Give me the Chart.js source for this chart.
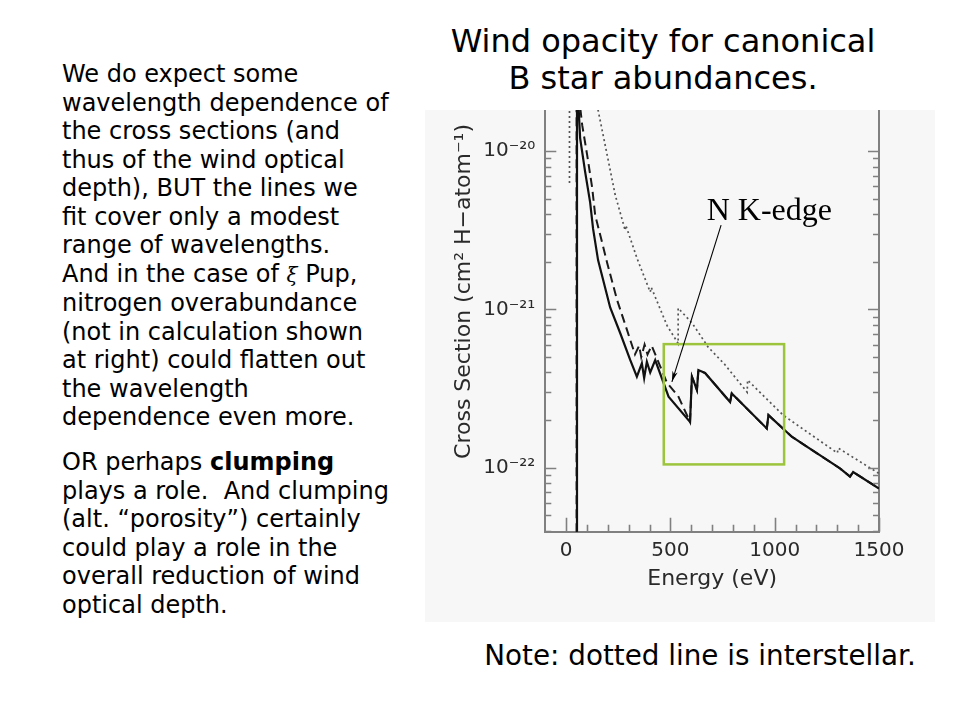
<!DOCTYPE html>
<html>
<head>
<meta charset="utf-8">
<script src="https://cdn.jsdelivr.net/npm/chart.js@4.4.1/dist/chart.umd.min.js"></script>
<style>
  html, body { margin: 0; padding: 0; background: #ffffff; }
  body { width: 960px; height: 720px; position: relative; overflow: hidden; font-family: "DejaVu Sans", Verdana, sans-serif; color: #000; }
  #title { position: absolute; left: 363px; top: 23px; width: 600px; text-align: center; font-size: 32px; line-height: 37.3px; white-space: nowrap; }
  #left { position: absolute; left: 62px; top: 60px; font-size: 24px; line-height: 28.5px; white-space: nowrap; }
  #left p { margin: 0; }
  #left p + p { margin-top: 16.5px; }
  .xi { font-family: "DejaVu Serif", serif; font-style: italic; font-size: 20px; }
  #panel { position: absolute; left: 425px; top: 110px; width: 510px; height: 512px; background: #f7f7f7; }
  #note { position: absolute; left: 400px; top: 640px; width: 600px; text-align: center; font-size: 27.8px; line-height: 32px; white-space: nowrap; }
</style>
</head>
<body>
<div id="title">Wind opacity for canonical<br>B star abundances.</div>
<div id="left">
<p>We do expect some<br>wavelength dependence of<br>the cross sections (and<br>thus of the wind optical<br>depth), BUT the lines we<br>fit cover only a modest<br>range of wavelengths.<br>And in the case of <span class="xi">ξ</span> Pup,<br>nitrogen overabundance<br>(not in calculation shown<br>at right) could flatten out<br>the wavelength<br>dependence even more.</p>
<p>OR perhaps <b>clumping</b><br>plays a role.&nbsp; And clumping<br>(alt. “porosity”) certainly<br>could play a role in the<br>overall reduction of wind<br>optical depth.</p>
</div>
<div id="panel"><canvas id="c" width="510" height="512"></canvas></div>
<div id="note">Note: dotted line is interstellar.</div>
<script>
// ---- data (Energy in eV, cross section in cm^2 per H atom) ----
const energySolid = [52, 52, 67, 91, 115, 129, 153, 211, 259, 307, 339, 363, 374, 387, 403, 427, 491, 594, 603, 627, 634, 666, 786, 794, 834, 962, 970, 1082, 1154, 1313, 1361, 1376, 1500];
const sigmaSolid = [1e-24, 3e-20, 1.21e-20, 7.4e-21, 4.75e-21, 3.24e-21, 2.05e-21, 1.03e-21, 7.1e-22, 4.8e-22, 3.76e-22, 4.57e-22, 3.69e-22, 4.68e-22, 4.0e-22, 4.79e-22, 2.81e-22, 1.95e-22, 3.76e-22, 3.10e-22, 4.14e-22, 3.97e-22, 2.6e-22, 2.95e-22, 2.61e-22, 1.77e-22, 2.15e-22, 1.57e-22, 1.36e-22, 9.9e-23, 8.8e-23, 9.4e-23, 7.4e-23];

const energyDashed = [50, 50, 77, 101, 125, 139, 173, 197, 244, 292, 330, 350, 360, 376, 390, 410, 484, 537, 594, 603, 627, 634, 666, 786, 794, 834, 962, 970, 1082, 1154, 1313, 1361, 1376, 1500];
const sigmaDashed = [1e-24, 3e-20, 1.46e-20, 9.4e-21, 5.85e-21, 3.95e-21, 2.63e-21, 1.96e-21, 1.15e-21, 7.4e-22, 5.2e-22, 5.9e-22, 5.0e-22, 6.0e-22, 5.2e-22, 5.9e-22, 3.43e-22, 2.84e-22, 1.95e-22, 3.76e-22, 3.10e-22, 4.14e-22, 3.97e-22, 2.6e-22, 2.95e-22, 2.61e-22, 1.77e-22, 2.15e-22, 1.57e-22, 1.36e-22, 9.9e-23, 8.8e-23, 9.4e-23, 7.4e-23];

const energyDotted = [16, 16, 100, 153, 197, 235, 283, 286, 340, 403, 408, 484, 537, 537, 604, 681, 760, 868, 870, 1040, 1300, 1305, 1500];
const sigmaDotted = [6.3e-21, 5e-19, 5e-20, 1.82e-20, 9.4e-21, 5.3e-21, 3.16e-21, 3.4e-21, 2.1e-21, 1.29e-21, 1.38e-21, 7.9e-22, 6.1e-22, 1.02e-21, 8.2e-22, 5.78e-22, 4.5e-22, 3.0e-22, 3.58e-22, 2.15e-22, 1.24e-22, 1.33e-22, 9.2e-23];

const xTickValues = [0, 500, 1000, 1500];
const xTickLabels = ['0', '500', '1000', '1500'];
const yTickValues = [1e-22, 1e-21, 1e-20];
const yTickLabels = ['10\u207B\u00B2\u00B2', '10\u207B\u00B2\u00B9', '10\u207B\u00B2\u2070'];

// annotation anchors in data units
const boxEnergy = [468, 1045];
const boxSigma = [1.05e-22, 6.04e-22];
const arrowEnergy = [743, 507];
const arrowSigma = [3.41e-21, 3.49e-22];
const labelEnergy = 674;
const labelSigma = 3.67e-21;
const labelText = 'N K-edge';

const xMin = -100, xMax = 1500;
const yMin = 3.945e-23, yMax = 1.82e-20;

const toPoints = (xs, ys) => xs.map((e, i) => ({ x: e, y: ys[i] }));

Chart.defaults.font.family = '"DejaVu Sans", sans-serif';

const frameColor = '#808080';
const axisText = '#2a2a2a';

const noPad = s => { s.paddingTop = 0; s.paddingBottom = 0; s.paddingLeft = 0; s.paddingRight = 0; };

const overlay = {
  id: 'overlay',
  afterDraw(chart) {
    const { ctx, chartArea: a, scales } = chart;
    const x = scales.x, y = scales.y;
    ctx.save();
    // inward tick marks
    ctx.strokeStyle = frameColor;
    ctx.lineWidth = 1.6;
    ctx.beginPath();
    for (let v = 0; v <= xMax; v += 100) {
      const px = Math.round(x.getPixelForValue(v)) + 0.5;
      const len = v % 500 === 0 ? 14 : 7;
      ctx.moveTo(px, a.bottom);
      ctx.lineTo(px, a.bottom - len);
    }
    for (let d = -23; d <= -20; d++) {
      for (let m = 1; m <= 9; m++) {
        const v = m * Math.pow(10, d);
        if (v < yMin || v > yMax) continue;
        const py = Math.round(y.getPixelForValue(v)) + 0.5;
        const len = m === 1 ? 11 : 6;
        ctx.moveTo(a.left, py); ctx.lineTo(a.left + len, py);
        ctx.moveTo(a.right, py); ctx.lineTo(a.right - len, py);
      }
    }
    ctx.stroke();

    // green box
    ctx.strokeStyle = '#9cc43c';
    ctx.lineWidth = 2.5;
    const bx1 = x.getPixelForValue(boxEnergy[0]), bx2 = x.getPixelForValue(boxEnergy[1]);
    const by1 = y.getPixelForValue(boxSigma[1]), by2 = y.getPixelForValue(boxSigma[0]);
    ctx.strokeRect(bx1, by1, bx2 - bx1, by2 - by1);

    // arrow
    const ax1 = x.getPixelForValue(arrowEnergy[0]), ay1 = y.getPixelForValue(arrowSigma[0]);
    const ax2 = x.getPixelForValue(arrowEnergy[1]), ay2 = y.getPixelForValue(arrowSigma[1]);
    ctx.strokeStyle = '#000';
    ctx.fillStyle = '#000';
    ctx.lineWidth = 1.1;
    ctx.beginPath();
    ctx.moveTo(ax1, ay1); ctx.lineTo(ax2, ay2);
    ctx.stroke();
    const ang = Math.atan2(ay2 - ay1, ax2 - ax1);
    const hl = 11, hw = 0.25;
    ctx.beginPath();
    ctx.moveTo(ax2, ay2);
    ctx.lineTo(ax2 - hl * Math.cos(ang - hw), ay2 - hl * Math.sin(ang - hw));
    ctx.lineTo(ax2 - hl * 0.7 * Math.cos(ang), ay2 - hl * 0.7 * Math.sin(ang));
    ctx.lineTo(ax2 - hl * Math.cos(ang + hw), ay2 - hl * Math.sin(ang + hw));
    ctx.closePath();
    ctx.fill();

    // label
    ctx.font = '32px "Liberation Serif", "Times New Roman", serif';
    ctx.textAlign = 'left';
    ctx.textBaseline = 'alphabetic';
    ctx.fillText(labelText, x.getPixelForValue(labelEnergy), y.getPixelForValue(labelSigma));
    ctx.restore();
  }
};

new Chart(document.getElementById('c'), {
  type: 'line',
  data: {
    datasets: [
      { label: 'Wind (solid)', data: toPoints(energySolid, sigmaSolid), borderColor: '#111', borderWidth: 2.2, pointRadius: 0, tension: 0, fill: false },
      { label: 'Wind (dashed)', data: toPoints(energyDashed, sigmaDashed), borderColor: '#1a1a1a', borderWidth: 2, borderDash: [9, 5], pointRadius: 0, tension: 0, fill: false },
      { label: 'Interstellar', data: toPoints(energyDotted, sigmaDotted), borderColor: '#555', borderWidth: 1.7, borderDash: [2, 3], pointRadius: 0, tension: 0, fill: false }
    ]
  },
  options: {
    responsive: false,
    animation: false,
    devicePixelRatio: 1,
    layout: { padding: 0 },
    plugins: { legend: { display: false }, tooltip: { enabled: false }, title: { display: false } },
    scales: {
      x: {
        type: 'linear', position: 'bottom', min: xMin, max: xMax,
        grid: { display: false, drawTicks: false },
        border: { display: true, color: frameColor, width: 2 },
        afterBuildTicks: s => { s.ticks = xTickValues.map(v => ({ value: v })); },
        afterFit: s => { s.height = 90.3; noPad(s); },
        ticks: { color: axisText, font: { size: 20 }, padding: 7, maxRotation: 0, autoSkip: false,
          callback: (v) => { const i = xTickValues.indexOf(v); return i >= 0 ? xTickLabels[i] : ''; } },
        title: { display: true, text: 'Energy (eV)', color: axisText, font: { size: 22 }, padding: { top: 0, bottom: 30 } }
      },
      y: {
        type: 'logarithmic', position: 'left', min: yMin, max: yMax,
        grid: { display: false, drawTicks: false },
        border: { display: true, color: frameColor, width: 2 },
        afterBuildTicks: s => { s.ticks = yTickValues.map(v => ({ value: v })); },
        afterFit: s => { s.width = 120.3; noPad(s); },
        ticks: { color: axisText, font: { size: 20 }, padding: 10, autoSkip: false,
          callback: (v) => { const i = yTickValues.indexOf(v); return i >= 0 ? yTickLabels[i] : ''; } },
        title: { display: true, text: 'Cross Section (cm\u00B2 H\u2212atom\u207B\u00B9)  ', align: 'end', color: axisText, font: { size: 22 }, padding: { top: 26, bottom: 0 } }
      },
      y2: {
        type: 'logarithmic', position: 'right', min: yMin, max: yMax,
        grid: { display: false, drawTicks: false },
        border: { display: true, color: frameColor, width: 2 },
        ticks: { display: false },
        afterFit: s => { s.width = 56; noPad(s); }
      }
    }
  },
  plugins: [overlay]
});
</script>
</body>
</html>
